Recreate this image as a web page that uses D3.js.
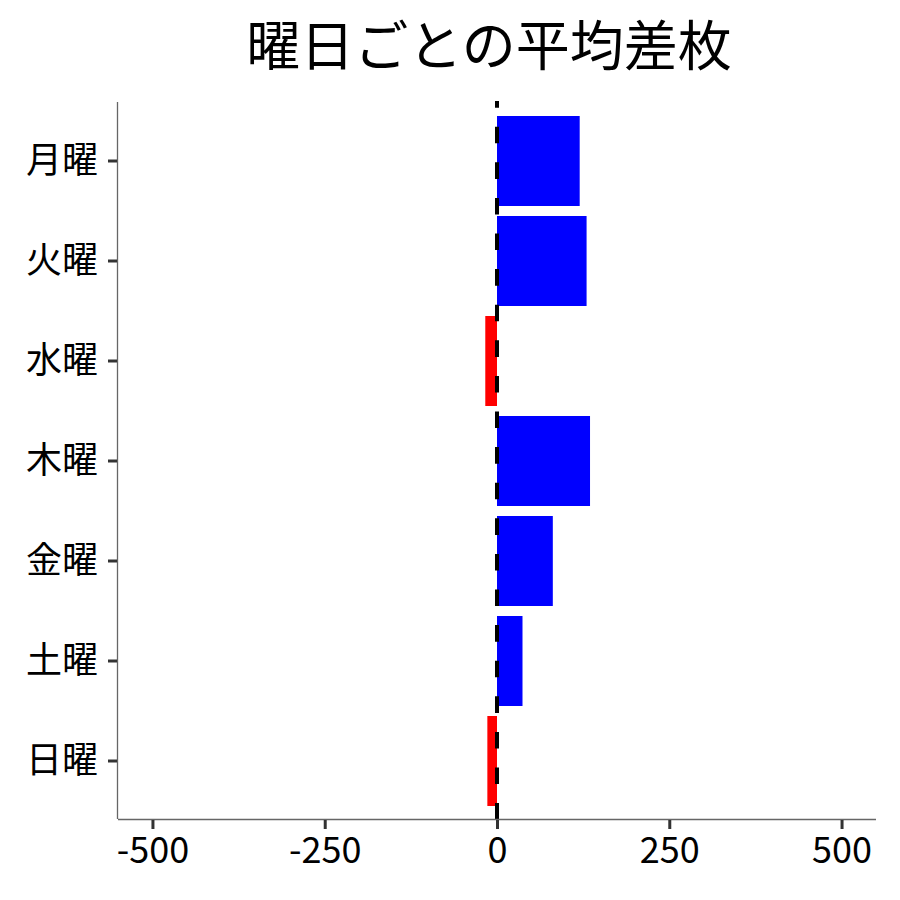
<!DOCTYPE html>
<html><head><meta charset="utf-8">
<script src="https://cdn.jsdelivr.net/npm/d3@7"></script>
<style>body{margin:0;background:#fff}</style>
</head><body>
<svg id="c" width="900" height="900"></svg>
<script>
const categories = ["月曜","火曜","水曜","木曜","金曜","土曜","日曜"];
const values = [120, 130, -17, 135, 81, 37, -14];
const xTicks = [-500, -250, 0, 250, 500];
const title = "曜日ごとの平均差枚";

const font = "'Noto Sans CJK JP', 'Noto Sans', sans-serif";
const svg = d3.select("#c");
const L = 118, R = 876, T = 102, B = 819;
const x = d3.scaleLinear().domain([-550, 550]).range([L, R]);
const y = d3.scaleBand().domain(categories).range([111, 811]).paddingInner(0.1).paddingOuter(0.05);

const data = categories.map((c, i) => ({c, v: values[i]}));

svg.selectAll("rect.bar").data(data).enter().append("rect")
  .attr("class", "bar")
  .attr("x", d => x(Math.min(0, d.v)))
  .attr("width", d => Math.abs(x(d.v) - x(0)))
  .attr("y", d => y(d.c))
  .attr("height", y.bandwidth())
  .attr("fill", d => d.v >= 0 ? "#0000ff" : "#ff0000");

// zero dashed line
svg.append("line")
  .attr("x1", x(0)).attr("x2", x(0))
  .attr("y1", 101).attr("y2", 820)
  .attr("stroke", "#000").attr("stroke-width", 4)
  .attr("stroke-dasharray", "16.6,19").attr("stroke-dashoffset", 9.9);

// x axis
const xAxis = d3.axisBottom(x).tickValues(xTicks).tickSize(10).tickPadding(8).tickFormat(d => String(d));
const gx = svg.append("g").attr("transform", `translate(0,${B})`).call(xAxis);
gx.select(".domain").attr("stroke", "#666").attr("stroke-width", 1.3).attr("d", `M${L},0.5H${R}`);
gx.selectAll(".tick line").attr("stroke", "#333").attr("stroke-width", 3).attr("y1", 1);
gx.selectAll(".tick text").attr("font-family", font).attr("font-size", 36).attr("fill", "#000");

// y axis
const yAxis = d3.axisLeft(y).tickSize(10).tickPadding(10);
const gy = svg.append("g").attr("transform", `translate(${L},0)`).call(yAxis);
gy.select(".domain").attr("stroke", "#666").attr("stroke-width", 1.3).attr("d", `M-0.5,${T}V${B}`);
gy.selectAll(".tick line").attr("stroke", "#333").attr("stroke-width", 3).attr("x1", -1);
gy.selectAll(".tick text").attr("font-family", font).attr("font-size", 36).attr("fill", "#000");

svg.append("text")
  .attr("x", (L + R) / 2 - 8).attr("y", 66)
  .attr("text-anchor", "middle")
  .attr("font-family", font).attr("font-size", 54)
  .attr("fill", "#000")
  .text(title);
</script>
</body></html>
